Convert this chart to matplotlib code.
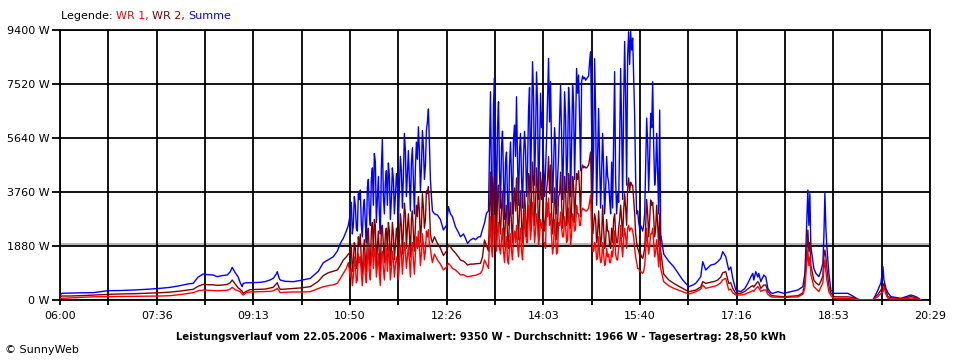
import matplotlib
matplotlib.use("Agg")
import matplotlib.pyplot as plt
import numpy as np

# ---- data: minutes after 06:00, power in W ----
# morning (smooth)
t_morning = [0, 2, 10, 20, 33, 48, 60, 75, 90, 100, 110, 120, 128, 133, 138, 143, 148, 153, 157,
             162, 167, 170, 172, 175, 178, 180, 182, 183, 186, 190, 200, 205, 210, 213, 216, 217,
             219, 220, 225, 233, 240, 250, 258, 263, 268, 273, 277, 280, 283, 286, 288]
sum_morning = [174, 233, 240, 250, 254, 324, 330, 350, 380, 406, 440, 500, 560, 580, 800, 905, 880, 870, 812,
               850, 870, 980, 1137, 950, 800, 600, 464, 580, 600, 600, 615, 640, 700, 754, 900, 986,
               750, 696, 650, 638, 680, 754, 1000, 1300, 1400, 1508, 1700, 1970, 2150, 2400, 2600]
wr2_morning = [116, 139, 139, 150, 170, 197, 210, 220, 240, 254, 275, 310, 350, 371, 480, 545, 530, 530, 510,
               520, 540, 600, 696, 560, 420, 371, 300, 232, 300, 360, 371, 380, 420, 441, 560, 603,
               420, 371, 380, 400, 420, 464, 650, 850, 950, 1000, 1044, 1200, 1392, 1500, 1600]
wr1_morning = [58, 58, 70, 90, 110, 116, 120, 125, 135, 139, 150, 190, 230, 254, 320, 348, 340, 330, 320,
               330, 340, 380, 441, 360, 320, 290, 200, 174, 250, 280, 290, 295, 300, 320, 380, 406,
               300, 254, 270, 280, 280, 290, 400, 460, 500, 530, 580, 750, 928, 1100, 1300]

# first cloudy phase (10:50 - 12:12): even minutes
t_spike1 = list(range(290, 374, 2))
sum_spike1 = [3000, 2300, 3600, 2500, 3700, 3830, 2200, 3500, 2000, 4200, 2600, 4600, 5100, 2700,
              4300, 2300, 5600, 3000, 4500, 4770, 2800, 4600, 3000, 4400, 2700, 5000, 3200, 5800,
              3600, 5200, 3100, 5300, 3000, 5500, 6030, 3800, 5900, 4200, 5900, 6650, 4200, 3100]
wr2_spike1 = [1650, 1000, 2000, 1100, 2200, 2300, 900, 2100, 1000, 2500, 1200, 2700, 2800, 1200,
              2400, 1000, 2600, 1300, 2500, 2700, 1200, 2700, 1400, 2500, 1300, 3000, 1600, 3370,
              1800, 3000, 1500, 3100, 1700, 3300, 3600, 2000, 3700, 2500, 3800, 3950, 2300, 2000]
wr1_spike1 = [800, 500, 1500, 600, 1600, 1500, 500, 1700, 600, 1800, 700, 1900, 1800, 800,
              1600, 500, 1700, 700, 1800, 1900, 700, 1700, 800, 1500, 700, 1900, 900, 2000,
              1100, 1900, 800, 2000, 900, 2200, 2400, 1200, 2300, 1400, 2400, 2450, 1800, 1300]
# first cloudy phase: odd minutes
t_spike1b = list(range(291, 373, 2))
sum_spike1b = [3400, 2600, 3300, 2400, 3500, 2600, 3200, 2700, 3900, 3000, 4200, 3300, 4800, 3500,
               3000, 4600, 3600, 4100, 3300, 4300, 3500, 4200, 3600, 4000, 3900, 4500, 4300, 5200,
               4400, 4200, 4800, 4100, 4600, 4900, 5200, 4600, 5300, 4700, 6200, 5400, 3600]
wr2_spike1b = [1900, 1300, 1800, 1200, 1900, 1300, 1700, 1400, 2200, 1500, 2400, 1700, 2600, 1800,
               1500, 2500, 1900, 2300, 1700, 2400, 1800, 2300, 1900, 2200, 2100, 2600, 2400, 3000,
               2500, 2300, 2800, 2300, 2600, 2900, 3100, 2600, 3200, 2800, 3700, 3200, 2100]
wr1_spike1b = [1100, 800, 1200, 700, 1300, 900, 1100, 900, 1400, 1000, 1500, 1100, 1600, 1200,
               900, 1500, 1100, 1400, 1000, 1500, 1100, 1400, 1200, 1300, 1200, 1600, 1500, 1700,
               1500, 1400, 1700, 1400, 1600, 1800, 1900, 1600, 1900, 1700, 2200, 1900, 1500]

# overcast around noon
t_noon = [374, 377, 380, 383, 386, 388, 390, 392, 395, 398, 400, 403, 405, 407, 410, 413, 415,
          418, 420, 422, 424, 426, 428]
sum_noon = [3000, 2960, 2800, 2437, 2600, 3250, 3000, 2900, 2550, 2350, 2200, 2300, 2150, 1970,
            2088, 2150, 2100, 2200, 2200, 2450, 2680, 3020, 3100]
wr2_noon = [2200, 1970, 1800, 1550, 1700, 1914, 1850, 1750, 1636, 1500, 1392, 1350, 1300, 1218,
            1250, 1250, 1260, 1270, 1276, 1500, 2088, 1900, 1700]
wr1_noon = [1600, 1392, 1250, 1044, 1150, 1276, 1200, 1100, 1044, 950, 870, 880, 840, 812,
            830, 850, 860, 900, 928, 1050, 1392, 1250, 1100]

# second cloudy phase (13:10 - 15:56): even minutes
t_spike2 = list(range(430, 598, 2))
sum_spike2 = [7250, 2400, 7725, 3000, 6900, 3200, 5880, 2800, 5150, 2600, 5500, 3000, 6090, 7076,
              3300, 5800, 3200, 5870, 3600, 6600, 3800, 8295, 4000, 7940, 3500, 7200, 6540, 3600,
              5600, 8410, 7600, 3400, 6000, 3000, 5000, 7480, 3500, 7250, 3800, 7400, 3600, 7470,
              4200, 8060, 7830, 4500, 7800, 7750, 7700, 7800, 8640, 3500, 8400, 3300, 6670, 3200,
              5800, 3000, 5000, 4100, 3000, 3200, 7950, 3000, 3400, 8060, 3500, 9000, 4000, 9340,
              9350, 9120, 6440, 3000, 2700, 2600, 2400, 3000, 6330, 3800, 6500, 7600, 4000, 5800]
wr2_spike2 = [4450, 2000, 4300, 2100, 4000, 2300, 3800, 1900, 3300, 1800, 3400, 2000, 3900, 4250,
              2100, 3800, 2000, 3700, 2200, 4400, 2400, 4800, 2600, 4600, 2200, 4450, 4200, 2400,
              3800, 4990, 4700, 2300, 3900, 2100, 3600, 4450, 2500, 4300, 2600, 4400, 2500, 4300,
              2700, 4400, 4500, 2900, 4700, 4650, 4600, 4700, 5150, 2300, 3000, 2000, 3100, 1900,
              3300, 1800, 2800, 2400, 1800, 2000, 3000, 2000, 2500, 3300, 2200, 3700, 2600, 4250,
              4100, 4000, 3000, 2000, 1700, 1600, 1450, 1800, 3500, 2200, 3480, 3400, 2200, 3300]
wr1_spike2 = [2900, 1500, 2950, 1700, 2700, 1600, 2500, 1300, 2200, 1250, 2300, 1400, 2400, 2600,
              1500, 2500, 1400, 3100, 2000, 3300, 2100, 3400, 2000, 3000, 1900, 2800, 2700, 2000,
              3400, 3550, 3000, 1600, 2800, 1600, 2700, 3060, 2200, 2900, 2000, 3200, 1900, 3000,
              2400, 3300, 3000, 2600, 3200, 3150, 3100, 3200, 3650, 1700, 2000, 1400, 2200, 1300,
              2000, 1200, 1800, 1600, 1300, 1500, 2400, 1400, 1800, 2600, 1500, 2500, 1800, 2600,
              2500, 2400, 1800, 1300, 1100, 1000, 930, 1200, 2500, 1600, 2300, 2500, 1500, 2100]
# second cloudy phase: odd minutes
t_spike2b = list(range(431, 597, 2))
sum_spike2b = [4000, 6800, 5200, 6000, 4500, 5300, 4200, 4800, 3500, 4700,
               4200, 5600, 5000, 4800, 5200, 4300, 5000, 5200, 4600, 7400,
               6000, 7100, 5600, 6800, 5200, 6000, 4800, 4500, 7000, 6200,
               5200, 4600, 5400, 4200, 6300, 5800, 5200, 6400, 5000, 6600,
               5400, 6800, 6000, 7200, 6300, 7600, 7700, 7650, 7750, 8300,
               6000, 5200, 6500, 5000, 4800, 4500, 4600, 3800, 4300, 3500,
               4800, 5600, 4200, 3700, 5500, 6000, 6800, 7000, 8500, 8200,
               8700, 7800, 4200, 3100, 2500, 2500, 2600, 4600, 5400, 5000,
               6000, 5400, 4500]
wr2_spike2b = [2600, 3900, 3200, 3600, 2800, 3200, 2600, 2900, 2200, 2900,
               2600, 3400, 3100, 2900, 3200, 2700, 3000, 3100, 2800, 4200,
               3500, 4100, 3300, 3900, 3100, 3500, 2900, 2800, 4200, 3700,
               3100, 2800, 3300, 2600, 3700, 3400, 3100, 3800, 3000, 3900,
               3200, 4000, 3600, 4200, 3800, 4550, 4600, 4600, 4650, 4900,
               3500, 2600, 2800, 2300, 2400, 2200, 2500, 2000, 2400, 1900,
               2500, 2800, 2300, 2000, 2800, 2800, 3100, 3200, 3900, 3800,
               4000, 3500, 2300, 1800, 1550, 1500, 1600, 2600, 3000, 2800,
               3300, 2900, 2500]
wr1_spike2b = [1800, 2700, 2100, 2400, 1800, 2100, 1700, 1900, 1400, 1900,
               1700, 2200, 2000, 1900, 2100, 1700, 2200, 2300, 2000, 3000,
               2600, 2900, 2400, 2700, 2200, 2500, 2000, 1800, 2900, 2600,
               2200, 1900, 2200, 1700, 2600, 2500, 2200, 2600, 2100, 2700,
               2300, 2800, 2500, 3000, 2600, 3100, 3150, 3100, 3150, 3400,
               2500, 1700, 1900, 1500, 1600, 1400, 1600, 1300, 1500, 1300,
               1700, 2000, 1600, 1400, 1900, 1900, 2100, 2200, 2500, 2400,
               2500, 2200, 1500, 1100, 1000, 950, 1000, 1700, 2000, 1900,
               2300, 2000, 1700]

# afternoon / evening
t_evening = [598, 599, 600, 603, 608, 613, 618, 622, 628, 632, 635, 640, 642, 645, 650, 654, 657,
             660, 662, 665, 668, 670, 672, 675, 680, 684, 687, 690, 692, 693, 695, 697, 698, 700,
             703, 705, 707, 710, 712, 717, 723, 730, 737, 742, 744, 745, 746, 747, 748, 749, 750,
             753, 755, 758, 760, 762, 763, 764, 765, 766, 768, 770, 773, 777, 787, 793, 797, 802,
             812, 813, 817, 820, 822, 823, 825, 827, 830, 840, 845, 850, 855, 860]
sum_evening = [3000, 6614, 2300, 1600, 1350, 1160, 900, 696, 464, 520, 580, 812, 1334, 1044, 1218, 1250, 1334,
               1450, 1682, 1508, 1044, 1150, 754, 348, 290, 400, 580, 800, 928, 696, 986, 800, 928, 638,
               870, 800, 406, 250, 232, 290, 232, 290, 348, 464, 928, 1800, 2800, 3830, 2600, 3700, 1856,
               1100, 928, 812, 1000, 1276, 2200, 3713, 2500, 1856, 928, 348, 232, 232, 232, 116, 23, 0,
               0, 58, 348, 600, 1160, 700, 406, 250, 116, 58, 116, 174, 116, 0]
wr2_evening = [1900, 3000, 1700, 900, 700, 580, 480, 406, 290, 320, 348, 450, 638, 580, 620, 650, 696,
               800, 950, 986, 580, 600, 400, 232, 232, 300, 380, 464, 500, 450, 550, 638, 600, 406,
               522, 522, 300, 174, 150, 130, 116, 130, 150, 250, 600, 1200, 1700, 2436, 1700, 2000, 1200,
               696, 600, 522, 650, 850, 1500, 1740, 1500, 1100, 464, 250, 116, 110, 110, 80, 20, 0,
               0, 58, 200, 348, 464, 580, 300, 116, 80, 50, 80, 120, 80, 0]
wr1_evening = [1150, 2000, 1100, 640, 500, 406, 340, 290, 209, 250, 290, 380, 522, 406, 450, 480, 522,
               600, 700, 754, 348, 380, 250, 174, 174, 200, 250, 290, 330, 300, 400, 464, 420, 300,
               348, 348, 200, 116, 100, 100, 90, 100, 110, 200, 400, 900, 1276, 1740, 1200, 1500, 900,
               464, 400, 290, 450, 600, 1100, 1392, 1000, 700, 290, 150, 58, 58, 58, 40, 10, 0,
               0, 30, 120, 232, 290, 464, 200, 58, 40, 30, 50, 70, 50, 0]

average_w = 1966
y_ticks = [0, 1880, 3760, 5640, 7520, 9400]
y_labels = ["0 W", "1880 W", "3760 W", "5640 W", "7520 W", "9400 W"]
x_labels = ["06:00", "07:36", "09:13", "10:50", "12:26", "14:03", "15:40", "17:16", "18:53", "20:29"]
x_end = 869
title = ("Leistungsverlauf vom 22.05.2006 - Maximalwert: 9350 W - "
         "Durchschnitt: 1966 W - Tagesertrag: 28,50 kWh")

minutes = np.array(t_morning + t_spike1 + t_spike1b + t_noon + t_spike2 + t_spike2b + t_evening)
summe = np.array(sum_morning + sum_spike1 + sum_spike1b + sum_noon + sum_spike2 + sum_spike2b + sum_evening)
wr2 = np.array(wr2_morning + wr2_spike1 + wr2_spike1b + wr2_noon + wr2_spike2 + wr2_spike2b + wr2_evening)
wr1 = np.array(wr1_morning + wr1_spike1 + wr1_spike1b + wr1_noon + wr1_spike2 + wr1_spike2b + wr1_evening)
order = np.argsort(minutes, kind="stable")
minutes, summe, wr2, wr1 = minutes[order], summe[order], wr2[order], wr1[order]

# ---- figure ----
plt.rcParams['font.family'] = ['DejaVu Sans']
fig = plt.figure(figsize=(9.6, 3.6), dpi=100)
ax = fig.add_axes([60 / 960, 1 - 300 / 360, 870 / 960, 270 / 360])

BLUE = "#0000ff"
DRED = "#800000"
RED = "#ff0000"

ax.axhline(average_w, color="#a0a0a0", lw=1.1, zorder=1)
ax.plot(minutes, summe, color=BLUE, lw=1.0, zorder=3)
ax.plot(minutes, wr2, color=DRED, lw=1.0, zorder=4)
ax.plot(minutes, wr1, color=RED, lw=1.0, zorder=5)

ax.set_xlim(0, x_end)
ax.set_ylim(0, 9400)
major = np.linspace(0, x_end, len(x_labels))
minor = np.linspace(0, x_end, 2 * len(x_labels) - 1)
ax.set_xticks(major)
ax.set_xticklabels(x_labels)
ax.set_xticks(minor, minor=True)
ax.set_yticks(y_ticks)
ax.set_yticklabels(y_labels)

ax.grid(True, which="both", axis="x", color="black", lw=1.3, zorder=2)
ax.grid(True, which="major", axis="y", color="black", lw=1.3, zorder=2)
for s in ax.spines.values():
    s.set_color("black")
    s.set_linewidth(1.3)
ax.tick_params(axis="y", length=6, width=1.3, pad=1.5, labelsize=8)
ax.tick_params(axis="x", which="both", length=3.6, width=1.3, pad=4, labelsize=8)
ax.set_axisbelow(False)

# legend text
fig.canvas.draw()
renderer = fig.canvas.get_renderer()
x0 = 61 / 960
yl = 1 - 16 / 360
for txt, col in [("Legende: ", "black"), ("WR 1, ", RED), ("WR 2, ", DRED), ("Summe", BLUE)]:
    t = fig.text(x0, yl, txt, color=col, fontsize=8, va="center", ha="left")
    bb = t.get_window_extent(renderer)
    x0 += bb.width / 960

tt = fig.text(481 / 960, 1 - 337 / 360, title, fontsize=8, fontweight="bold", ha="center", va="center")
w = tt.get_window_extent(renderer).width
tt.set_fontsize(8 * 608 / w)
fig.text(5 / 960, 1 - 350 / 360, "© SunnyWeb", fontsize=8, ha="left", va="center")

fig.savefig("out.png", dpi=100)
